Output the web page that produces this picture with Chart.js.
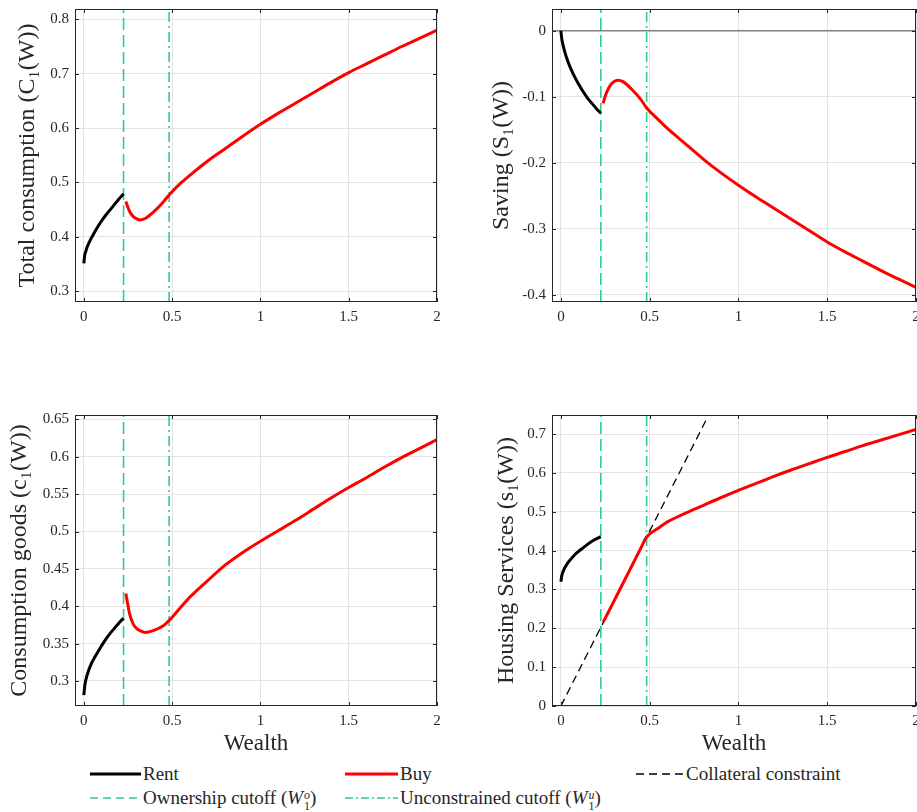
<!DOCTYPE html>
<html>
<head>
<meta charset="utf-8">
<script src="https://cdn.jsdelivr.net/npm/chart.js@4.4.0/dist/chart.umd.min.js"></script>
<style>
body { margin: 0; width: 917px; height: 812px; overflow: hidden; background: #fff; position: relative; font-family: "Liberation Serif", serif; color: #262626; }
canvas { position: absolute; }
.sample { position: absolute; }
.lab { position: absolute; font-size: 19px; line-height: 22px; white-space: nowrap; }
.ss { display: inline-block; vertical-align: -6px; font-size: 12px; line-height: 11px; margin-left: 1px; text-align: left; }
.ss span { display: block; }
</style>
</head>
<body>
<canvas id="total" width="460" height="345" style="left:0;top:0"></canvas>
<canvas id="saving" width="457" height="345" style="left:460px;top:0"></canvas>
<canvas id="goods" width="460" height="380" style="left:0;top:380px"></canvas>
<canvas id="housing" width="457" height="380" style="left:460px;top:380px"></canvas>

<!-- legend -->
<svg class="sample" style="left:90px;top:764px" width="52" height="20"><line x1="0" y1="10" x2="51" y2="10" stroke="#000" stroke-width="3"/></svg>
<div class="lab" style="left:143px;top:763px">Rent</div>
<svg class="sample" style="left:345px;top:764px" width="54" height="20"><line x1="0" y1="10" x2="53" y2="10" stroke="#ff0000" stroke-width="3"/></svg>
<div class="lab" style="left:400px;top:763px">Buy</div>
<svg class="sample" style="left:636px;top:764px" width="48" height="20"><line x1="0" y1="10" x2="47" y2="10" stroke="#000" stroke-width="1.3" stroke-dasharray="8 5"/></svg>
<div class="lab" style="left:686px;top:763px">Collateral constraint</div>
<svg class="sample" style="left:90px;top:788px" width="52" height="20"><line x1="0" y1="10" x2="51" y2="10" stroke="#2fcf8a" stroke-width="1.5" stroke-dasharray="8 5"/></svg>
<div class="lab" style="left:143px;top:787px">Ownership cutoff (<i>W</i><span class="ss"><span><i>o</i></span><span>1</span></span>)</div>
<svg class="sample" style="left:345px;top:788px" width="54" height="20"><line x1="0" y1="10" x2="53" y2="10" stroke="#2fcf8a" stroke-width="1.5" stroke-dasharray="8 3 2 3"/></svg>
<div class="lab" style="left:400px;top:787px">Unconstrained cutoff (<i>W</i><span class="ss"><span><i>u</i></span><span>1</span></span>)</div>

<script>
// wealth grids
const wealthRent = [0, 0.005, 0.01, 0.02, 0.04, 0.06, 0.08, 0.1, 0.125, 0.15, 0.175, 0.2, 0.225];
const wealthBuy = [0.238, 0.25, 0.26, 0.28, 0.3, 0.32, 0.35, 0.4, 0.45, 0.483, 0.55, 0.6, 0.7, 0.8, 0.9, 1.0, 1.1, 1.2, 1.3, 1.4, 1.5, 1.6, 1.7, 1.8, 1.9, 2.0];
const ownershipCutoff = 0.225;
const unconstrainedCutoff = 0.483;
const xTicks = [0, 0.5, 1, 1.5, 2];

// total consumption C1(W)
const totalRent = [0.351, 0.366, 0.372, 0.382, 0.396, 0.408, 0.419, 0.429, 0.440, 0.450, 0.460, 0.470, 0.479];
const totalBuy = [0.465, 0.454, 0.446, 0.437, 0.433, 0.431, 0.434, 0.447, 0.464, 0.477, 0.499, 0.513, 0.539, 0.562, 0.585, 0.607, 0.627, 0.646, 0.665, 0.684, 0.702, 0.718, 0.734, 0.750, 0.765, 0.780];
const totalTicks = [0.3, 0.4, 0.5, 0.6, 0.7, 0.8];

// saving S1(W)
const savingRent = [0, -0.012, -0.019, -0.030, -0.047, -0.060, -0.071, -0.081, -0.092, -0.102, -0.110, -0.118, -0.125];
const savingBuy = [-0.110, -0.099, -0.092, -0.082, -0.077, -0.075, -0.077, -0.089, -0.104, -0.117, -0.135, -0.148, -0.171, -0.194, -0.215, -0.234, -0.252, -0.269, -0.286, -0.303, -0.320, -0.335, -0.349, -0.363, -0.376, -0.389];
const savingTicks = [-0.4, -0.3, -0.2, -0.1, 0];

// consumption goods c1(W)
const goodsRent = [0.281, 0.293, 0.300, 0.309, 0.322, 0.331, 0.339, 0.347, 0.356, 0.364, 0.371, 0.378, 0.384];
const goodsBuy = [0.417, 0.401, 0.389, 0.376, 0.370, 0.367, 0.365, 0.368, 0.374, 0.381, 0.399, 0.412, 0.434, 0.455, 0.472, 0.487, 0.501, 0.515, 0.530, 0.545, 0.559, 0.572, 0.586, 0.599, 0.611, 0.623];
const goodsTicks = [0.3, 0.35, 0.4, 0.45, 0.5, 0.55, 0.6, 0.65];

// housing services s1(W)
const housingRent = [0.320, 0.335, 0.343, 0.354, 0.369, 0.380, 0.390, 0.398, 0.407, 0.416, 0.424, 0.430, 0.436];
const housingBuy = [0.216, 0.226, 0.235, 0.253, 0.271, 0.289, 0.316, 0.361, 0.406, 0.435, 0.458, 0.474, 0.496, 0.516, 0.536, 0.555, 0.573, 0.591, 0.608, 0.624, 0.640, 0.655, 0.670, 0.684, 0.698, 0.712];
const housingTicks = [0, 0.1, 0.2, 0.3, 0.4, 0.5, 0.6, 0.7];
const collateralW = [0, 0.82];
const collateralS = [0, 0.738];

const green = '#2fcf8a';
const ink = '#262626';
const serif = 'Liberation Serif';

function pts(xs, ys) {
    return xs.map((x, i) => ({x: x, y: ys[i]}));
}

// box round the plot with inward tick marks
var frame = {
    id: 'frame',
    afterDatasetsDraw(chart) {
        const a = chart.chartArea, ctx = chart.ctx;
        const sx = chart.scales.x, sy = chart.scales.y;
        ctx.save();
        ctx.strokeStyle = ink;
        ctx.lineWidth = 1;
        ctx.beginPath();
        sx.ticks.forEach(t => {
            const p = Math.round(sx.getPixelForValue(t.value)) + 0.5;
            ctx.moveTo(p, a.bottom); ctx.lineTo(p, a.bottom - 4);
            ctx.moveTo(p, a.top); ctx.lineTo(p, a.top + 4);
        });
        sy.ticks.forEach(t => {
            const p = Math.round(sy.getPixelForValue(t.value)) + 0.5;
            ctx.moveTo(a.left, p); ctx.lineTo(a.left + 4, p);
            ctx.moveTo(a.right, p); ctx.lineTo(a.right - 4, p);
        });
        ctx.stroke();
        ctx.strokeRect(a.left + 0.5, a.top + 0.5, a.right - a.left - 1, a.bottom - a.top - 1);
        ctx.restore();
    }
};

function panel(id, p) {
    var curves = [
        { data: pts(wealthRent, p.rent), borderColor: '#000', borderWidth: 3, cubicInterpolationMode: 'monotone' },
        { data: pts(wealthBuy, p.buy), borderColor: '#ff0000', borderWidth: 3, cubicInterpolationMode: 'monotone' }
    ];
    var guides = [
        { data: pts([ownershipCutoff, ownershipCutoff], [p.yMin, p.yMax]), borderColor: green, borderWidth: 1.6, borderDash: [12, 5] },
        { data: pts([unconstrainedCutoff, unconstrainedCutoff], [p.yMin, p.yMax]), borderColor: green, borderWidth: 1.6, borderDash: [10, 4, 2, 4] }
    ];
    var datasets = curves.concat(guides, p.extra || []);
    datasets.forEach(d => { d.pointRadius = 0; d.fill = false; });

    new Chart(document.getElementById(id), {
        type: 'line',
        data: { datasets: datasets },
        options: {
            responsive: false,
            animation: false,
            layout: { padding: { top: p.top, right: p.right, left: 0, bottom: 0 } },
            plugins: { legend: { display: false }, tooltip: { enabled: false } },
            scales: {
                x: {
                    type: 'linear', min: -0.05, max: 2,
                    afterBuildTicks: s => { s.ticks = xTicks.map(v => ({value: v})); },
                    afterFit: s => { s.height = p.xh; s.paddingLeft = 0; s.paddingRight = 0; },
                    grid: { color: '#e3e3e3', drawTicks: false },
                    border: { display: false },
                    ticks: { padding: 6, color: ink, maxRotation: 0, autoSkip: false,
                        font: { family: serif, size: 15 }, callback: v => String(v) },
                    title: { display: !!p.xTitle, text: 'Wealth', color: ink,
                        font: { family: serif, size: 23 }, padding: { top: 0, bottom: 2 } }
                },
                y: {
                    min: p.yMin, max: p.yMax,
                    afterBuildTicks: s => { s.ticks = p.ticks.map(v => ({value: v})); },
                    afterFit: s => { s.width = p.yw; s.paddingTop = 0; s.paddingBottom = 0; },
                    grid: { color: '#e3e3e3', drawTicks: false },
                    border: { display: false },
                    ticks: { padding: 6, color: ink, autoSkip: false,
                        font: { family: serif, size: 15 }, callback: v => String(v) },
                    title: { display: true, text: p.title, color: ink,
                        font: { family: serif, size: 24 }, padding: { top: p.titlePad, bottom: 0 } }
                }
            }
        },
        plugins: [frame]
    });
}

panel('total', { rent: totalRent, buy: totalBuy, ticks: totalTicks, yMin: 0.28, yMax: 0.819,
    title: 'Total consumption (C\u2081(W))', top: 9, right: 23, xh: 43, yw: 75, titlePad: 13 });

panel('saving', { rent: savingRent, buy: savingBuy, ticks: savingTicks, yMin: -0.411, yMax: 0.033,
    title: 'Saving (S\u2081(W))', top: 9, right: 1, xh: 43, yw: 92, titlePad: 27,
    extra: [{ data: pts([-0.05, 2], [0, 0]), borderColor: '#808080', borderWidth: 1.5 }] });

panel('goods', { rent: goodsRent, buy: goodsBuy, ticks: goodsTicks, yMin: 0.2665, yMax: 0.656,
    title: 'Consumption goods (c\u2081(W))', top: 35, right: 23, xh: 54, yw: 75, titlePad: 5, xTitle: true });

panel('housing', { rent: housingRent, buy: housingBuy, ticks: housingTicks, yMin: 0, yMax: 0.749,
    title: 'Housing Services (s\u2081(W))', top: 35, right: 1, xh: 54, yw: 92, titlePad: 32, xTitle: true,
    extra: [{ data: pts(collateralW, collateralS), borderColor: '#000', borderWidth: 1.3, borderDash: [8, 5] }] });
</script>
</body>
</html>
